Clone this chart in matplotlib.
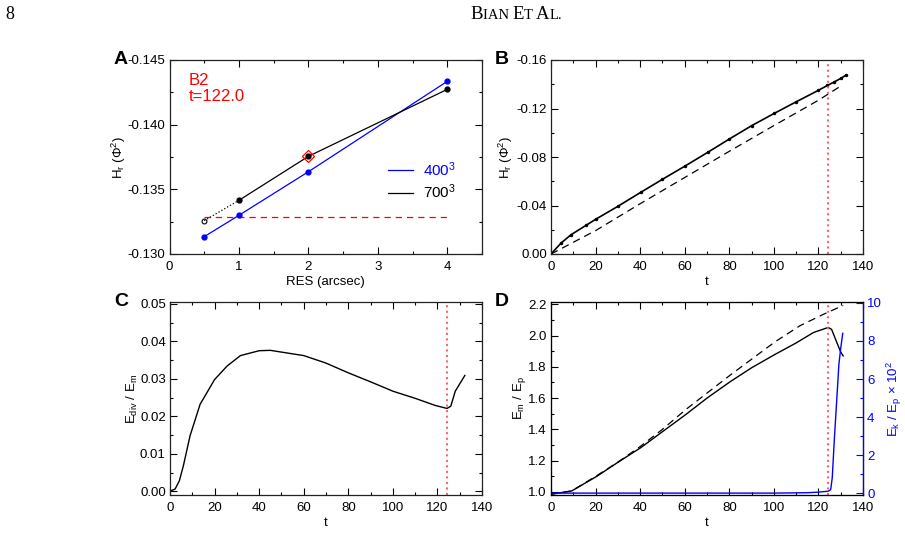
import matplotlib
matplotlib.use("Agg")
import matplotlib.pyplot as plt
from matplotlib.ticker import MultipleLocator, FormatStrFormatter

plt.rcParams["font.family"] = ["Liberation Sans", "DejaVu Sans"]
plt.rcParams["mathtext.fontset"] = "custom"
plt.rcParams["mathtext.rm"] = "Liberation Sans"
plt.rcParams["mathtext.it"] = "Liberation Sans"
plt.rcParams["font.size"] = 9.5

# ── Panel A: helicity vs resolution ──────────────────────────────────────────
res_400 = [0.5, 1.0, 2.0, 4.0]
hr_400 = [-0.13134, -0.13299, -0.13636, -0.14335]
res_700 = [1.0, 2.0, 4.0]
hr_700 = [-0.13415, -0.13755, -0.14273]
res_extrap = [0.5, 1.0]
hr_extrap = [-0.13258, -0.13415]
ref_res = [0.5, 4.0]
ref_hr = [-0.13283, -0.13283]
sel_res = [2.0]
sel_hr = [-0.13755]

# ── Panel B: relative helicity vs time ───────────────────────────────────────
t_hr = [0, 4.5, 9, 15.7, 20.2, 29.9, 40.4, 50, 60.2, 70.3, 80, 90, 100.1, 110,
        120, 124, 127, 130, 132.3]
hr_t = [0, -0.009, -0.0159, -0.0236, -0.0288, -0.0392, -0.051, -0.0616, -0.0726,
        -0.0838, -0.0948, -0.1058, -0.1159, -0.1255, -0.135, -0.139, -0.1418,
        -0.1448, -0.1474]
t_hr_ref = [0, 20.2, 40.4, 60.2, 80, 100.1, 120, 130]
hr_ref = [0, -0.0195, -0.0419, -0.0633, -0.0847, -0.106, -0.1268, -0.1385]

# ── Panel C: divergence energy ratio ─────────────────────────────────────────
t_div = [0, 2.3, 4.2, 6, 9, 13.5, 20, 25.6, 31.6, 40, 45, 60, 70, 80, 90, 100,
         110, 119, 124.3, 126, 128, 132.3]
ediv = [0, 0.0006, 0.0028, 0.0068, 0.0148, 0.0232, 0.0298, 0.0334, 0.0362,
        0.0375, 0.0376, 0.0362, 0.0342, 0.0316, 0.0292, 0.0267, 0.0248, 0.0229,
        0.0221, 0.0227, 0.0267, 0.0309]

# ── Panel D: energy ratios ───────────────────────────────────────────────────
t_em = [0, 9.3, 20.5, 30, 40.4, 50, 60.5, 70, 80.4, 90, 100.3, 110, 117.8,
        124.4, 125.9, 128.2, 130, 131.1]
em_ep = [0.985, 1.006, 1.099, 1.189, 1.284, 1.385, 1.495, 1.60, 1.705, 1.794,
         1.878, 1.953, 2.02, 2.052, 2.04, 1.958, 1.895, 1.87]
t_em_ref = [0, 9.3, 20, 30, 40, 50, 60.5, 80.4, 100.3, 111.7, 122.2, 131.1]
em_ep_ref = [0.985, 1.006, 1.099, 1.19, 1.29, 1.40, 1.527, 1.747, 1.958, 2.063,
             2.136, 2.193]
t_ek = [0, 100, 115, 120, 124.4, 125.5, 126.2, 127.1, 128.2, 129.2, 130.1, 130.9]
ek_ep = [0, 0, 0.02, 0.05, 0.1, 0.18, 0.8, 2.74, 4.87, 6.8, 7.7, 8.4]

t_mark = 124.2

W, H = 905, 534
fig = plt.figure(figsize=(W / 100, H / 100), dpi=100)
mark_color = "#ff6464"


def box(l, r, t, b):
    return [l / W, 1 - b / H, (r - l) / W, (b - t) / H]


def style(ax, xmaj, xmin, ymaj, ymin, right=True):
    ax.xaxis.set_major_locator(MultipleLocator(xmaj))
    ax.xaxis.set_minor_locator(MultipleLocator(xmin))
    ax.yaxis.set_major_locator(MultipleLocator(ymaj))
    ax.yaxis.set_minor_locator(MultipleLocator(ymin))
    ax.tick_params(which="both", direction="in", top=True, right=right,
                   labelsize=9.5, width=0.8)
    ax.tick_params(which="major", length=5)
    ax.tick_params(which="minor", length=2.5)
    ax.tick_params(axis="x", pad=5)
    ax.tick_params(axis="y", pad=3)
    for s in ax.spines.values():
        s.set_linewidth(0.9)
        s.set_color("#222222")


axA = fig.add_axes(box(169.5, 482, 60, 254))
axB = fig.add_axes(box(551, 863, 60, 254))
axC = fig.add_axes(box(170, 482, 302, 495))
axD = fig.add_axes(box(551, 863, 302, 495))

# A
axA.plot(ref_res, ref_hr, color="red", lw=0.9, dashes=(5, 4))
axA.plot(res_extrap, hr_extrap, color="black", lw=0.9, ls=":")
axA.plot(res_400, hr_400, color="blue", lw=0.9, marker="o", ms=3.5, label="400$^3$")
axA.plot(res_700, hr_700, color="black", lw=0.9, marker="o", ms=3.5, label="700$^3$")
axA.plot(res_extrap[:1], hr_extrap[:1], ls="none", marker="o", ms=3.5,
         mfc="none", mec="black", mew=0.8)
axA.plot(sel_res, sel_hr, ls="none", marker="D", ms=6, mfc="none", mec="red", mew=0.9)
axA.set_xlim(0, 4.5)
axA.set_ylim(-0.130, -0.145)
style(axA, 1, 0.5, 0.005, 0.0025)
axA.yaxis.set_major_formatter(FormatStrFormatter("%.3f"))
axA.set_xlabel("RES (arcsec)", labelpad=2)
axA.set_ylabel("H$_r$ ($\\Phi^2$)", labelpad=0)
axA.text(0.06, 0.935, "B2\nt=122.0", transform=axA.transAxes, color="red",
         fontsize=12, va="top", ha="left", linespacing=1.1)
axA.legend(loc="upper left", bbox_to_anchor=(0.70, 0.485), frameon=False,
           handlelength=1.65, handletextpad=0.6, labelspacing=0.25, borderpad=0,
           borderaxespad=0, fontsize=11, labelcolor=["blue", "black"])
for leg_line in axA.get_legend().get_lines():
    leg_line.set_marker("")

# B
axB.plot(t_hr_ref, hr_ref, color="black", lw=0.9, dashes=(6, 4))
axB.plot(t_hr, hr_t, color="black", lw=1.2, marker="o", ms=1.5)
axB.axvline(t_mark, color=mark_color, lw=1.5, ls=":")
axB.set_xlim(0, 140)
axB.set_ylim(0, -0.16)
style(axB, 20, 10, 0.04, 0.02)
axB.yaxis.set_major_formatter(FormatStrFormatter("%.2f"))
axB.set_xlabel("t", labelpad=2)
axB.set_ylabel("H$_r$ ($\\Phi^2$)", labelpad=1)

# C
axC.plot(t_div, ediv, color="black", lw=1.0)
axC.axvline(t_mark, color=mark_color, lw=1.5, ls=":")
axC.set_xlim(0, 140)
axC.set_ylim(-0.001, 0.0505)
style(axC, 20, 10, 0.01, 0.005)
axC.yaxis.set_major_formatter(FormatStrFormatter("%.2f"))
axC.set_xlabel("t", labelpad=2)
axC.set_ylabel("E$_{div}$ / E$_m$", labelpad=0)

# D
axD.plot(t_em_ref, em_ep_ref, color="black", lw=0.9, dashes=(6, 4))
axD.plot(t_em, em_ep, color="black", lw=1.0)
axD.axvline(t_mark, color=mark_color, lw=1.5, ls=":")
axD.set_xlim(0, 140)
axD.set_ylim(0.98, 2.215)
style(axD, 20, 10, 0.2, 0.1, right=False)
axD.yaxis.set_major_formatter(FormatStrFormatter("%.1f"))
axD.set_xlabel("t", labelpad=2)
axD.set_ylabel("E$_m$ / E$_p$", labelpad=0)

axD2 = axD.twinx()
axD2.plot(t_ek, ek_ep, color="blue", lw=1.0)
axD2.set_ylim(-0.1, 10.05)
axD2.yaxis.set_major_locator(MultipleLocator(2))
axD2.yaxis.set_minor_locator(MultipleLocator(1))
axD2.tick_params(which="both", direction="in", colors="blue", labelsize=9.5,
                 width=0.8, pad=3)
axD2.tick_params(which="major", length=5)
axD2.tick_params(which="minor", length=2.5)
axD2.spines["right"].set_color("blue")
axD2.spines["right"].set_linewidth(0.9)
axD2.set_ylabel("E$_k$ / E$_p$ $\\times$ 10$^2$", color="blue", labelpad=2)

# panel letters
for ax, letter in ((axA, "A"), (axB, "B"), (axC, "C"), (axD, "D")):
    ax.text(-0.18, 1.0, letter, transform=ax.transAxes, fontsize=14,
            fontweight="bold", ha="left", va="center")

# page header
hdr_font = ["Liberation Serif", "DejaVu Serif"]
fig.text(5 / W, 1 - 19 / H, "8", family=hdr_font, fontsize=13, va="baseline")
renderer = fig.canvas.get_renderer()
x = 470 / W
for chunk, size in (("B", 13.5), ("IAN ", 10.5), ("E", 13.5), ("T ", 10.5),
                    ("A", 13.5), ("L.", 10.5)):
    tx = fig.text(x, 1 - 19 / H, chunk, family=hdr_font, fontsize=size,
                  va="baseline")
    bb = tx.get_window_extent(renderer)
    x += bb.width / W

fig.savefig("out.png", dpi=100)
